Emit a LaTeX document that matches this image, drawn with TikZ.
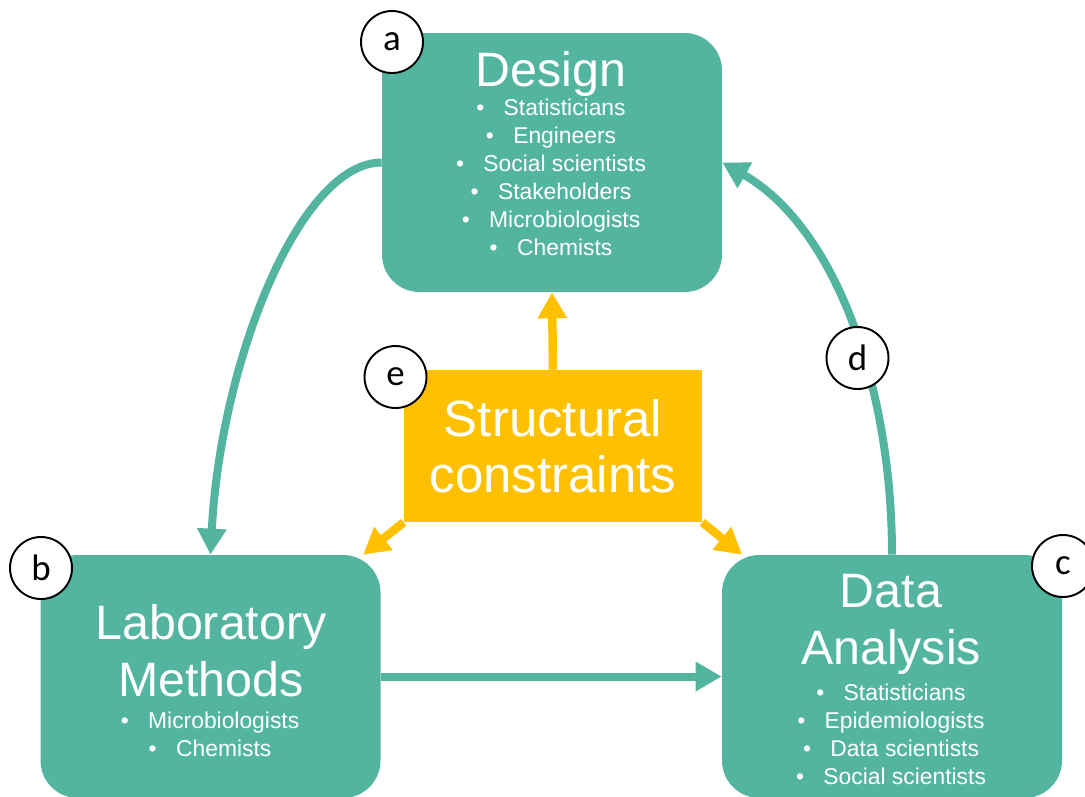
\documentclass[tikz,border=0pt]{standalone}
\usepackage{fontspec}
\setmainfont{Liberation Sans}
\newfontfamily\tagfont{Carlito}
\usepackage{tikz}
\usetikzlibrary{positioning}
\usetikzlibrary{arrows.meta,shapes}
\definecolor{seagreen3}{HTML}{53B5A0}
\definecolor{gold1}{HTML}{FFC000}
\newcommand{\who}[1]{\textbullet\hspace{0.85em}#1}

\begin{document}
\begin{tikzpicture}
    [flow/.style={-{Triangle[length=0.52cm,width=0.56cm]},
                  seagreen3,
                  line width=0.16cm},
    push/.style={-{Triangle[length=0.52cm,width=0.56cm]},
                 gold1,
                 line width=0.17cm},
    stage/.style={rectangle,
                  fill=seagreen3,
                  rounded corners=0.75cm,
                  minimum width=6.8cm},
    heading/.style={text=white,
                    inner sep=0pt,
                    align=center,
                    font=\fontsize{27.5}{32.5}\selectfont},
    people/.style={text=white,
                   inner sep=0pt,
                   align=center,
                   font=\fontsize{13}{15.9}\selectfont},
    tag/.style={circle,
                draw=black,
                fill=white,
                line width=1.1pt,
                minimum size=1.24cm,
                inner sep=0pt,
                font=\tagfont\fontsize{21}{21}\selectfont}]
    \path[use as bounding box, clip] (0,0) rectangle (21.7,-15.92);

    \node [stage, minimum height=5.18cm] (Design) at (11.04,-3.25) {};
    \node [stage, minimum height=4.86cm] (Lab) at (4.21,-13.53) {};
    \node [stage, minimum height=4.86cm] (Data) at (17.84,-13.53) {};
    \node [rectangle,
           fill=gold1,
           minimum width=5.96cm,
           minimum height=3.04cm,
           text=white,
           align=center,
           font=\fontsize{29}{31.75}\selectfont] (Struct) at (11.06,-8.92) {Structural\\constraints};

    \node [heading, anchor=base] (DesignTitle) at (11.02,-1.72) {Design};
    \node [people, anchor=north] (DesignPeople) at (11.02,-1.97)
          {\who{Statisticians}\\\who{Engineers}\\\who{Social scientists}\\
           \who{Stakeholders}\\\who{Microbiologists}\\\who{Chemists}};
    \node [heading, anchor=north] (LabTitle) at (4.22,-12.09) {Laboratory\\Methods};
    \node [people, anchor=north] (LabPeople) at (4.2,-14.225)
          {\who{Microbiologists}\\\who{Chemists}};
    \node [heading, anchor=north] (DataTitle) at (17.82,-11.485) {Data\\Analysis};
    \node [people, anchor=north] (DataPeople) at (17.82,-13.67)
          {\who{Statisticians}\\\who{Epidemiologists}\\\who{Data scientists}\\
           \who{Social scientists}};

    \draw[flow] (Design.west) .. controls +(-1.64,0) and +(0.2,3.86) .. (Lab.north);
    \draw[flow] (Data.north) .. controls +(0,3.4) and +(2.24,-1.28) .. (Design.east);
    \draw[flow] (Lab.east) -- (Data.west);

    \draw[push] (Struct.north) -- (Design.south);
    \draw[push] (Struct.south west) -- (Lab);
    \draw[push] (Struct.south east) -- (Data);

    \node [tag] (TagA) at (7.84,-0.84) {a};
    \node [tag] (TagB) at (0.82,-11.36) {b};
    \node [tag] (TagC) at (21.26,-11.32) {c};
    \node [tag] (TagD) at (17.15,-7.16) {d};
    \node [tag] (TagE) at (7.91,-7.54) {e};
\end{tikzpicture}
\end{document}
